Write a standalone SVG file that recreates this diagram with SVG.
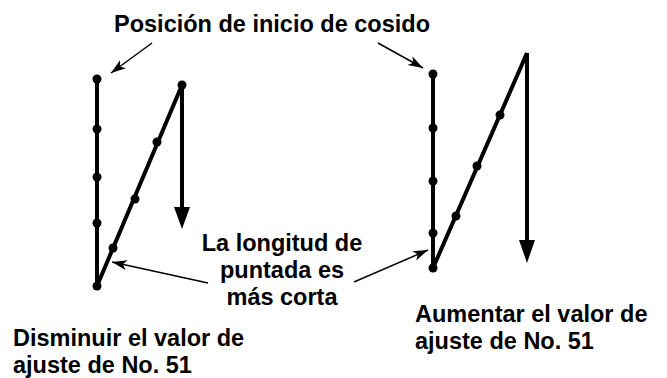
<svg xmlns="http://www.w3.org/2000/svg" width="667" height="378" viewBox="0 0 667 378">
<defs>
<marker id="ah" markerUnits="userSpaceOnUse" markerWidth="16" markerHeight="12" refX="15" refY="5" orient="auto">
<path d="M0,0 L15,5 L0,10 L4,5 Z" fill="#000"/>
</marker>
</defs>
<style>
.st{fill:none;stroke:#000;stroke-width:4;stroke-linejoin:round}
.dot{fill:#000}
.lead{fill:none;stroke:#000;stroke-width:1.5}
.t{font-family:"Liberation Sans",Arial,sans-serif;font-weight:bold;font-size:23.5px;fill:#000}
</style>
<rect width="667" height="378" fill="#fff"/>
<g id="left-figure">
<polyline class="st" points="97,79 97,286 182,85"/>
<line class="st" x1="182" y1="85" x2="182" y2="210"/>
<path d="M174,207 L190,207 L182,229 Z" fill="#000"/>
<circle class="dot" cx="97" cy="79" r="4.5"/>
<circle class="dot" cx="97" cy="129" r="4.5"/>
<circle class="dot" cx="97" cy="177" r="4.5"/>
<circle class="dot" cx="97" cy="223" r="4.5"/>
<circle class="dot" cx="97" cy="286" r="4.5"/>
<circle class="dot" cx="113" cy="248" r="4.5"/>
<circle class="dot" cx="135" cy="199" r="4.5"/>
<circle class="dot" cx="157" cy="142" r="4.5"/>
<circle class="dot" cx="182" cy="85" r="4.5"/>
</g>
<g id="right-figure">
<polyline class="st" points="433,74 433,268 527,53"/>
<line class="st" x1="527" y1="53" x2="527" y2="243"/>
<path d="M519,240 L535,240 L527,263 Z" fill="#000"/>
<circle class="dot" cx="433" cy="74" r="4.5"/>
<circle class="dot" cx="433" cy="128" r="4.5"/>
<circle class="dot" cx="433" cy="181" r="4.5"/>
<circle class="dot" cx="433" cy="233" r="4.5"/>
<circle class="dot" cx="433" cy="268" r="4.5"/>
<circle class="dot" cx="456" cy="216" r="4.5"/>
<circle class="dot" cx="477" cy="166" r="4.5"/>
<circle class="dot" cx="500" cy="115" r="4.5"/>
</g>
<g id="connectors">
<line class="lead" x1="152" y1="43" x2="111" y2="73" marker-end="url(#ah)"/>
<line class="lead" x1="378" y1="43" x2="423" y2="68" marker-end="url(#ah)"/>
<line class="lead" x1="208" y1="283" x2="112" y2="262" marker-end="url(#ah)"/>
<line class="lead" x1="354" y1="282" x2="428" y2="250" marker-end="url(#ah)"/>
</g>
<g id="label-start">
<text class="t" x="272" y="32" text-anchor="middle">Posición de inicio de cosido</text>
</g>
<g id="label-length">
<text class="t" x="282" y="251" text-anchor="middle">La longitud de</text>
<text class="t" x="282" y="278" text-anchor="middle">puntada es</text>
<text class="t" x="282" y="305" text-anchor="middle">más corta</text>
</g>
<g id="label-decrease">
<text class="t" x="13" y="346">Disminuir el valor de</text>
<text class="t" x="13" y="373">ajuste de No. 51</text>
</g>
<g id="label-increase">
<text class="t" x="415" y="322">Aumentar el valor de</text>
<text class="t" x="415" y="349">ajuste de No. 51</text>
</g>
</svg>
